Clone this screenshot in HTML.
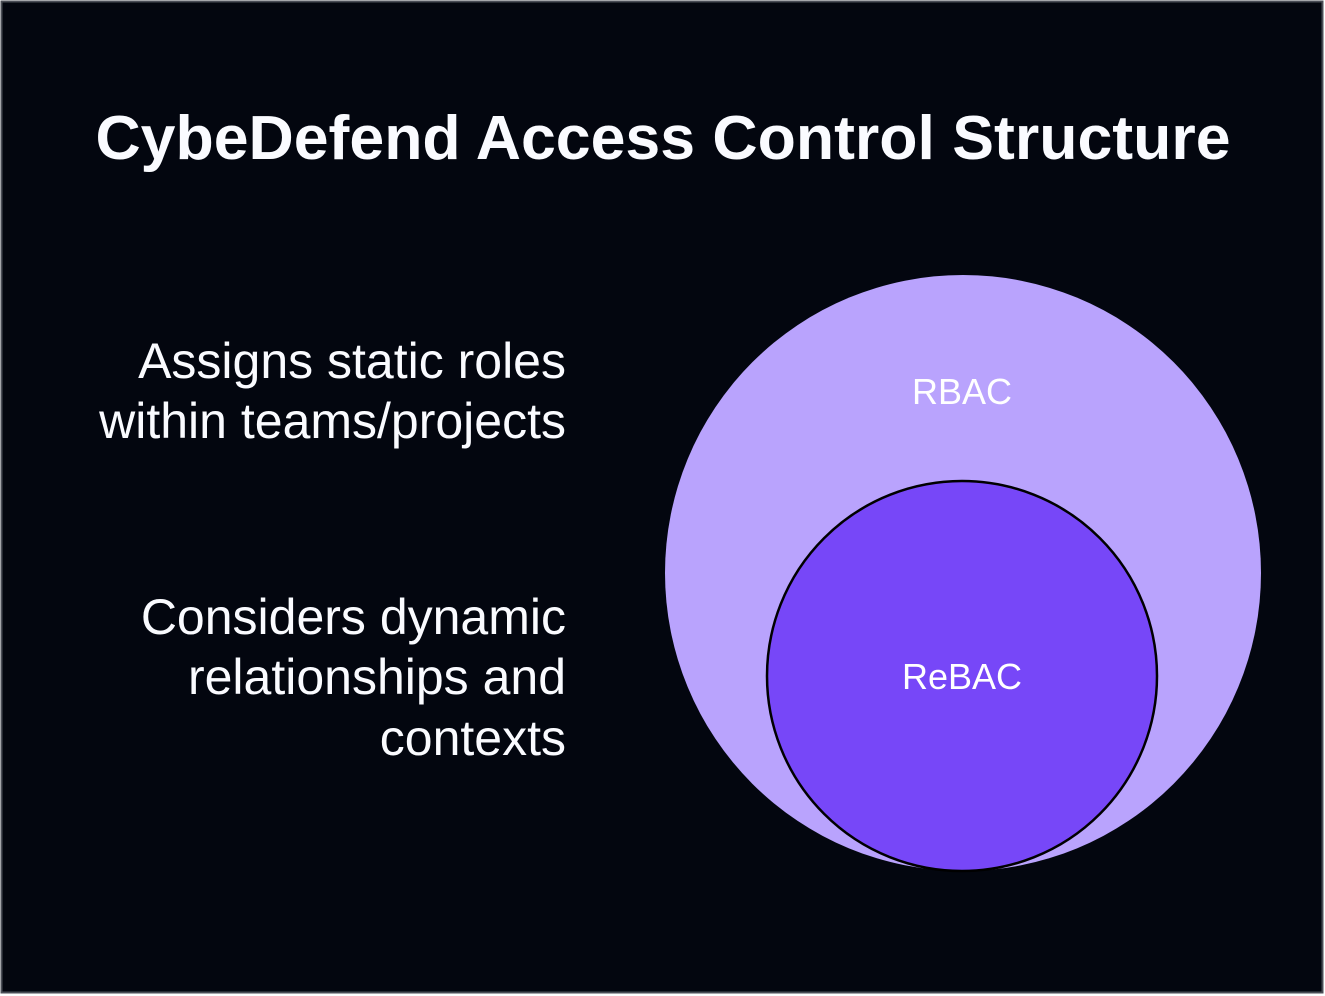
<!DOCTYPE html>
<html>
<head>
<meta charset="utf-8">
<style>
  html, body { margin: 0; padding: 0; background: #ffffff; }
  body { width: 1325px; height: 996px; overflow: hidden; }
  svg { display: block; }
  text { font-family: "Liberation Sans", Arial, sans-serif; }
</style>
</head>
<body>
<svg width="1325" height="996" viewBox="0 0 1325 996" xmlns="http://www.w3.org/2000/svg">
  <rect x="0" y="0" width="1325" height="996" fill="#ffffff"/>
  <rect x="1.5" y="1.5" width="1321" height="991" fill="#03060f" stroke="#4a4d56" stroke-width="2"/>

  <text x="663" y="159" text-anchor="middle" font-size="62.6" font-weight="bold" fill="#fafbff">CybeDefend Access Control Structure</text>

  <g font-size="50" fill="#fafbff" text-anchor="end">
    <text x="566" y="378">Assigns static roles</text>
    <text x="566" y="438">within teams/projects</text>
    <text x="566" y="634">Considers dynamic</text>
    <text x="566" y="694">relationships and</text>
    <text x="566" y="755">contexts</text>
  </g>

  <circle cx="963" cy="573" r="298" fill="#b9a3fd"/>
  <text x="962" y="404" text-anchor="middle" font-size="36" fill="#ffffff">RBAC</text>

  <circle cx="962" cy="676" r="195" fill="#7747f8" stroke="#000000" stroke-width="2.5"/>
  <text x="962" y="689" text-anchor="middle" font-size="36" fill="#ffffff">ReBAC</text>
</svg>
</body>
</html>
